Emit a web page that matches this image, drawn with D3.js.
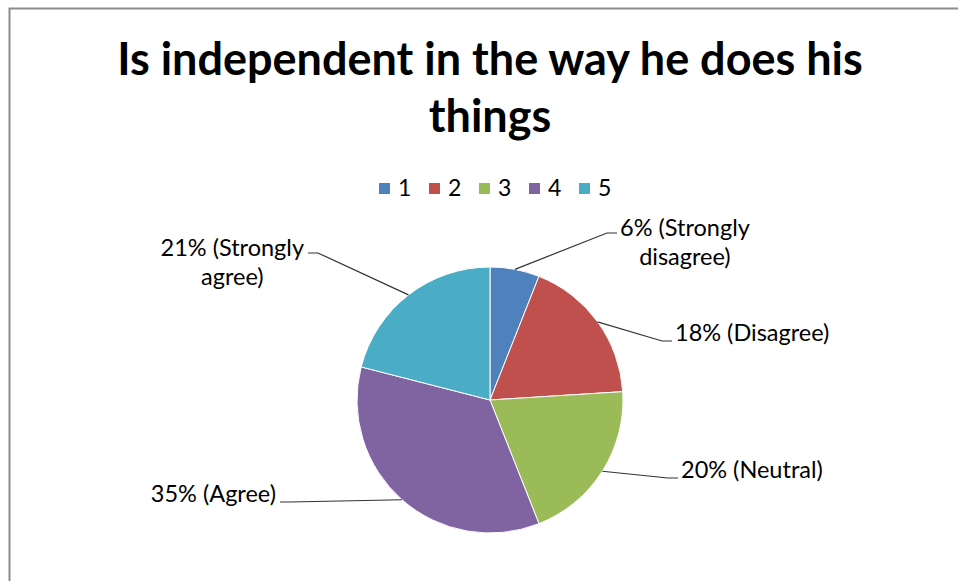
<!DOCTYPE html>
<html>
<head>
<meta charset="utf-8">
<script src="https://cdn.jsdelivr.net/npm/d3@7"></script>
<style>
  body { margin: 0; background: #fff; }
  svg { display: block; }
  text { font-family: Lato, "Open Sans", sans-serif; fill: #000; }
</style>
</head>
<body>
<div id="chart"><svg></svg></div>
<script>
var categories = ["1", "2", "3", "4", "5"];
var values = [6, 18, 20, 35, 21];
var labelNames = ["Strongly disagree", "Disagree", "Neutral", "Agree", "Strongly agree"];
var colors = ["#4F81BD", "#C0504D", "#9BBB59", "#8064A2", "#4BACC6"];
var titleLines = ["Is independent in the way he does his", "things"];

var W = 958, H = 581;
var cx = 490, cy = 400, r = 133;

// where each label's leader line bends (offset from pie centre) and how the text wraps
var labelLayout = [
  { ex: 117, ey: -167, side: "right", lines: ["6% (Strongly", "disagree)"] },
  { ex: 172, ey: -59, side: "right", lines: ["18% (Disagree)"] },
  { ex: 178, ey: 78, side: "right", lines: ["20% (Neutral)"] },
  { ex: -200, ey: 102, side: "left", lines: ["35% (Agree)"] },
  { ex: -172, ey: -147, side: "left", lines: ["21% (Strongly", "agree)"] }
];

var svg = d3.select("#chart svg").
  attr("width", W).
  attr("height", H);

// chart frame
svg.append("rect").
  attr("x", 9.5).
  attr("y", 8.5).
  attr("width", W + 10).
  attr("height", H + 10).
  attr("fill", "#fff").
  attr("stroke", "#8c8c8c").
  attr("stroke-width", 2);

svg.append("g").
  selectAll("text").
  data(titleLines).
  enter().append("text").
  attr("x", 490).
  attr("y", function(d, i) { return 75 + i * 57; }).
  attr("text-anchor", "middle").
  attr("font-size", 45).
  attr("font-weight", "bold").
  text(function(d) { return d; });

// legend
var legendX = d3.scalePoint().domain(categories).range([379, 579]);
var legend = svg.append("g").
  selectAll("g").
  data(categories).
  enter().append("g").
  attr("transform", function(d) { return "translate(" + legendX(d) + ",188)"; });
legend.append("rect").
  attr("x", 0).attr("y", -5).
  attr("width", 11).attr("height", 11).
  attr("fill", function(d, i) { return colors[i]; });
legend.append("text").
  attr("x", 19).
  attr("dy", "0.36em").
  attr("font-size", 23).
  attr("fill", "#222").
  text(function(d) { return d; });

var pie = d3.pie().sort(null).value(function(d) { return d; });
var arcs = pie(values);
var arc = d3.arc().innerRadius(0).outerRadius(r);

var g = svg.append("g").attr("transform", "translate(" + cx + "," + cy + ")");

g.selectAll("path").
  data(arcs).
  enter().append("path").
  attr("d", arc).
  attr("fill", function(d, i) { return colors[i]; }).
  attr("stroke", "#fff").
  attr("stroke-width", 1);

// leader lines and labels
arcs.forEach(function(a, i) {
  var L = labelLayout[i];
  var mid = (a.startAngle + a.endAngle) / 2;
  var px = Math.sin(mid) * r, py = -Math.cos(mid) * r;
  var hx = L.side === "right" ? L.ex + 10 : L.ex - 10;
  g.append("polyline").
    attr("points", [[px, py], [L.ex, L.ey], [hx, L.ey]].map(function(p) { return p.join(","); }).join(" ")).
    attr("fill", "none").
    attr("stroke", "#333").
    attr("stroke-width", 1.2);

  var t = g.append("text").
    attr("font-size", 23.5).
    attr("fill", "#222").
    attr("text-anchor", "middle");
  var lh = 29;
  var tx = L.side === "right" ? hx + 3 : hx - 4;
  var first = t.append("tspan").text(L.lines[0]);
  var w0 = first.node().getComputedTextLength();
  var centre = L.side === "right" ? tx + w0 / 2 : tx - w0 / 2;
  var base = L.lines.length > 1 ? L.ey + 3 : L.ey;
  first.attr("x", centre).attr("y", base);
  for (var k = 1; k < L.lines.length; k++) {
    t.append("tspan").attr("x", centre).attr("y", base + k * lh).text(L.lines[k]);
  }
});
</script>
</body>
</html>
